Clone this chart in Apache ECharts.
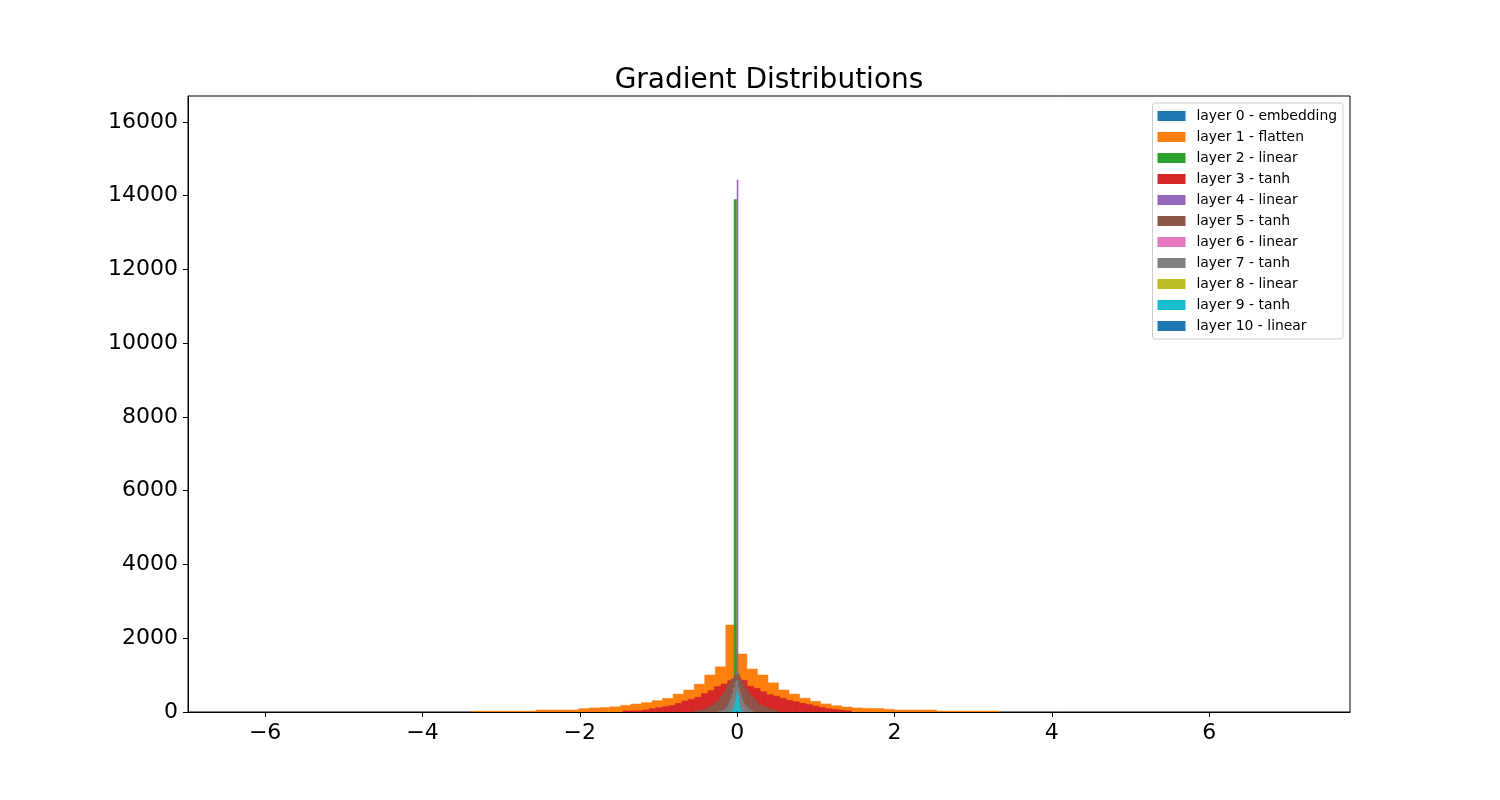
<!DOCTYPE html>
<html>
<head>
<meta charset="utf-8">
<script src="https://cdn.jsdelivr.net/npm/echarts@6/dist/echarts.min.js"></script>
<style>
  html, body { margin: 0; padding: 0; background: #fff; }
  #chart { width: 1500px; height: 800px; }
</style>
</head>
<body>
<div id="chart"></div>
<script>
// histogram bins per layer: first bin edge, bin width, counts
const layerNames = [
  'layer 0 - embedding', 'layer 1 - flatten', 'layer 2 - linear', 'layer 3 - tanh',
  'layer 4 - linear', 'layer 5 - tanh', 'layer 6 - linear', 'layer 7 - tanh',
  'layer 8 - linear', 'layer 9 - tanh', 'layer 10 - linear'
]
const layerColors = [
  '#1f77b4', '#ff7f0e', '#2ca02c', '#d62728', '#9467bd', '#8c564b',
  '#e377c2', '#7f7f7f', '#bcbd22', '#17becf', '#1f77b4'
]

const layer0Start = -1.0, layer0Width = 0.1
const layer0Counts = [30, 40, 60, 80, 110, 150, 200, 260, 330, 400, 420, 340, 270, 200, 150, 110, 80, 60, 40, 30]

const layer1Start = -3.36, layer1Width = 0.134
const layer1Counts = [22, 22, 22, 22, 22, 22, 54, 54, 54, 54, 90, 110, 120, 140, 180, 217, 253, 307, 370, 485,
  597, 755, 1003, 1225, 2360, 1573, 1166, 1003, 790, 597, 485, 375, 290, 220, 170, 135, 110, 99, 95, 72,
  54, 54, 54, 54, 25, 25, 25, 25, 25, 25]

const layer2Start = -0.105, layer2Width = 0.033
const layer2Counts = [60, 150, 13900, 1050, 150, 60]

const layer3Start = -1.45, layer3Width = 0.083
const layer3Counts = [30, 30, 35, 55, 90, 117, 145, 175, 235, 300, 345, 400, 500, 580, 690, 760, 850, 950, 860, 700,
  640, 550, 470, 430, 370, 320, 280, 240, 200, 160, 125, 90, 70, 50, 30]

const layer4Start = -0.04, layer4Width = 0.013
const layer4Counts = [300, 600, 800, 14430, 500]

const layer5Start = -0.53, layer5Width = 0.035
const layer5Counts = [30, 45, 60, 90, 120, 150, 200, 260, 320, 420, 540, 680, 800, 900, 980, 1000, 880, 780, 620, 510,
  420, 340, 260, 200, 170, 140, 110, 80, 55, 35]

const layer6Start = -0.09, layer6Width = 0.02
const layer6Counts = [100, 200, 300, 400, 420, 300, 200, 100]

const layer7Start = -0.25, layer7Width = 0.02
const layer7Counts = [15, 20, 30, 45, 70, 110, 170, 250, 350, 480, 650, 800, 850, 680, 500, 380, 280, 200, 140, 95, 60, 40, 20]

const layer8Start = -0.04, layer8Width = 0.01
const layer8Counts = [50, 100, 150, 250, 300, 200, 100]

const layer9Start = -0.07, layer9Width = 0.01
const layer9Counts = [20, 40, 80, 140, 220, 330, 460, 560, 420, 260, 140, 70, 30]

const layer10Start = -0.004, layer10Width = 0.002
const layer10Counts = [10, 20, 15, 8]

const xTicks = [-6, -4, -2, 0, 2, 4, 6]
const yTicks = [0, 2000, 4000, 6000, 8000, 10000, 12000, 14000, 16000]

const layers = [
  [layer0Start, layer0Width, layer0Counts],
  [layer1Start, layer1Width, layer1Counts],
  [layer2Start, layer2Width, layer2Counts],
  [layer3Start, layer3Width, layer3Counts],
  [layer4Start, layer4Width, layer4Counts],
  [layer5Start, layer5Width, layer5Counts],
  [layer6Start, layer6Width, layer6Counts],
  [layer7Start, layer7Width, layer7Counts],
  [layer8Start, layer8Width, layer8Counts],
  [layer9Start, layer9Width, layer9Counts],
  [layer10Start, layer10Width, layer10Counts]
]

const FONT = 'DejaVu Sans'

function renderBar(params, api) {
  const topLeft = api.coord([api.value(0), api.value(2)])
  const bottomRight = api.coord([api.value(1), 0])
  const color = api.visual('color')
  return {
    type: 'rect',
    shape: {
      x: topLeft[0],
      y: topLeft[1],
      width: bottomRight[0] - topLeft[0],
      height: bottomRight[1] - topLeft[1]
    },
    style: { fill: color, stroke: color, lineWidth: 0.5 }
  }
}

const series = layers.map(([start, width, counts], i) => ({
  name: layerNames[i],
  type: 'custom',
  renderItem: renderBar,
  itemStyle: { color: layerColors[i] },
  encode: { x: [0, 1], y: 2 },
  clip: true,
  z: 2 + i,
  data: counts.map((c, k) => [start + k * width, start + (k + 1) * width, c])
}))

const chart = echarts.init(document.getElementById('chart'))
chart.setOption({
  animation: false,
  backgroundColor: '#ffffff',
  title: {
    text: 'Gradient Distributions',
    left: 764,
    top: 62,
    textAlign: 'center',
    textStyle: { fontFamily: FONT, fontSize: 28, fontWeight: 'normal', color: '#000' }
  },
  legend: {
    orient: 'vertical',
    right: 157,
    top: 103,
    padding: [6, 6, 6, 5],
    itemWidth: 28,
    itemHeight: 10,
    itemGap: 7,
    icon: 'rect',
    backgroundColor: '#fff',
    borderColor: '#cccccc',
    borderWidth: 1,
    borderRadius: 3,
    data: layerNames.map((n, i) => ({ name: n, itemStyle: { color: layerColors[i] } })),
    textStyle: { fontFamily: FONT, fontSize: 13.9, color: '#000', lineHeight: 14, padding: [0, 0, 0, 6] }
  },
  grid: {
    left: 188,
    right: 150,
    top: 96,
    bottom: 88,
    show: true,
    borderColor: '#000',
    borderWidth: 1
  },
  xAxis: {
    type: 'value',
    min: -6.98,
    max: 7.79,
    splitLine: { show: false },
    axisLine: { show: true, onZero: false, lineStyle: { color: '#000', width: 1 } },
    axisTick: { show: true, length: 5, customValues: xTicks, lineStyle: { color: '#000' } },
    axisLabel: {
      customValues: xTicks,
      margin: 10,
      fontFamily: FONT,
      fontSize: 22,
      color: '#000',
      formatter: v => String(v).replace('-', '\u2212')
    }
  },
  yAxis: {
    type: 'value',
    min: 0,
    max: 16705,
    splitLine: { show: false },
    axisLine: { show: true, onZero: false, lineStyle: { color: '#000', width: 1 } },
    axisTick: { show: true, length: 5, customValues: yTicks, lineStyle: { color: '#000' } },
    axisLabel: {
      customValues: yTicks,
      margin: 10,
      fontFamily: FONT,
      fontSize: 22,
      color: '#000',
      formatter: v => String(v)
    }
  },
  series
})
</script>
</body>
</html>
